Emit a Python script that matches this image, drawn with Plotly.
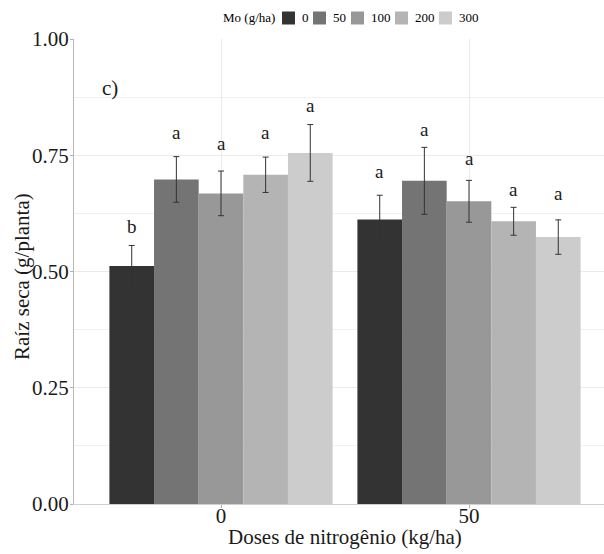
import plotly.graph_objects as go

# ---- data ----
nitrogen_doses = ["0", "50"]                 # x categories (kg/ha)
mo_doses = ["0", "50", "100", "200", "300"]  # legend levels (g/ha)

# mean dry root mass (g/planta) per Mo dose, for N = 0 and N = 50
means_n0 = [0.512, 0.698, 0.668, 0.708, 0.755]
means_n50 = [0.612, 0.695, 0.651, 0.608, 0.574]
# error bar half-lengths
err_n0 = [0.044, 0.049, 0.048, 0.038, 0.061]
err_n50 = [0.052, 0.072, 0.045, 0.030, 0.037]
# significance letters and the height at which they are printed
letters_n0 = ["b", "a", "a", "a", "a"]
letters_n50 = ["a", "a", "a", "a", "a"]
letter_y_n0 = [0.596, 0.798, 0.776, 0.798, 0.858]
letter_y_n50 = [0.716, 0.806, 0.744, 0.677, 0.667]

y_ticks = [0.00, 0.25, 0.50, 0.75, 1.00]
panel_label = "c)"
x_title = "Doses de nitrogênio (kg/ha)"
y_title = "Raíz seca (g/planta)"
legend_title = "Mo (g/ha)"

# ---- styling ----
colors = ["#333333", "#747474", "#989898", "#b4b4b4", "#cccccc"]
FONT = "Liberation Serif"
TXT = "#1a1a1a"
W, H = 604, 554
ML, MR, MT, MB = 74, 0, 39, 50
PW = W - ML - MR
PH = H - MT - MB

x_pos = [1, 2]
fig = go.Figure()
for i, mo in enumerate(mo_doses):
    fig.add_trace(go.Bar(
        x=x_pos,
        y=[means_n0[i], means_n50[i]],
        name=mo,
        marker=dict(color=colors[i], line=dict(width=0)),
        error_y=dict(type="data", array=[err_n0[i], err_n50[i]],
                     color="#333333", thickness=1, width=3),
        showlegend=False,
    ))

annotations = []
# significance letters
n_mo = len(mo_doses)
bar_w = 0.9 / n_mo
for gi, (letters, ly) in enumerate([(letters_n0, letter_y_n0), (letters_n50, letter_y_n50)]):
    for i in range(n_mo):
        xc = x_pos[gi] + (i - (n_mo - 1) / 2) * bar_w
        annotations.append(dict(x=xc, y=ly[i], xref="x", yref="y", text=letters[i],
                                showarrow=False, font=dict(family=FONT, size=19, color=TXT),
                                xanchor="center", yanchor="middle"))

# panel label
annotations.append(dict(x=0.553, y=0.895, xref="x", yref="y", text=panel_label, showarrow=False,
                        font=dict(family=FONT, size=21, color=TXT),
                        xanchor="center", yanchor="middle"))
# axis titles
annotations.append(dict(x=1.5, y=-(537 - (MT + PH)) / PH, xref="x", yref="paper", text=x_title,
                        showarrow=False, font=dict(family=FONT, size=21, color=TXT),
                        xanchor="center", yanchor="middle"))
annotations.append(dict(x=(22 - ML) / PW, y=(MT + PH - 277) / PH, xref="paper", yref="paper",
                        text=y_title, textangle=-90, showarrow=False,
                        font=dict(family=FONT, size=21, color=TXT),
                        xanchor="center", yanchor="middle"))

# manual legend at top
shapes = []
def px_x(p):
    return (p - ML) / PW
def px_y(p):
    return (MT + PH - p) / PH

leg_y = 18
box = 13
box_left = [282, 313, 351, 395, 439]
annotations.append(dict(x=px_x(277), y=px_y(leg_y), xref="paper", yref="paper", text=legend_title,
                        showarrow=False, xanchor="right", yanchor="middle",
                        font=dict(family=FONT, size=13, color="#000000")))
for i, mo in enumerate(mo_doses):
    x0 = box_left[i]
    shapes.append(dict(type="rect", xref="paper", yref="paper",
                       x0=px_x(x0), x1=px_x(x0 + box), y0=px_y(leg_y + box / 2), y1=px_y(leg_y - box / 2),
                       fillcolor=colors[i], line=dict(width=0)))
    annotations.append(dict(x=px_x(x0 + box + 5), y=px_y(leg_y), xref="paper", yref="paper", text=mo,
                            showarrow=False, xanchor="left", yanchor="middle",
                            font=dict(family=FONT, size=13, color="#000000")))

# x range: ggplot discrete expansion of 0.6 each side; right side cropped by the image edge
cat_px = 248
x_left = 1 - (221 - ML) / cat_px
x_right = x_left + PW / cat_px

fig.update_layout(
    width=W, height=H, autosize=False,
    margin=dict(l=ML, r=MR, t=MT, b=MB, pad=0),
    paper_bgcolor="white", plot_bgcolor="white",
    barmode="group", bargap=0.1, bargroupgap=0,
    font=dict(family=FONT, size=21, color=TXT),
    annotations=annotations, shapes=shapes,
    xaxis=dict(range=[x_left, x_right], tickvals=x_pos, ticktext=nitrogen_doses,
               showgrid=True, gridcolor="#ebebeb", gridwidth=1, zeroline=False,
               showline=True, linecolor="#d0d0d0", linewidth=1,
               ticks="outside", ticklen=3, tickcolor="#b0b0b0",
               ticklabelstandoff=-10,
               tickfont=dict(family=FONT, size=21, color=TXT)),
    yaxis=dict(range=[0, 1.0], tickvals=y_ticks, tickformat=".2f",
               showgrid=True, gridcolor="#ebebeb", gridwidth=1, zeroline=False,
               minor=dict(dtick=0.125, showgrid=True, gridcolor="#f0f0f0", gridwidth=1),
               showline=True, linecolor="#b8b8b8", linewidth=1,
               ticks="outside", ticklen=3, tickcolor="#b0b0b0",
               ticklabelstandoff=-3,
               tickfont=dict(family=FONT, size=21, color=TXT)),
)

fig.write_html("out.html")
